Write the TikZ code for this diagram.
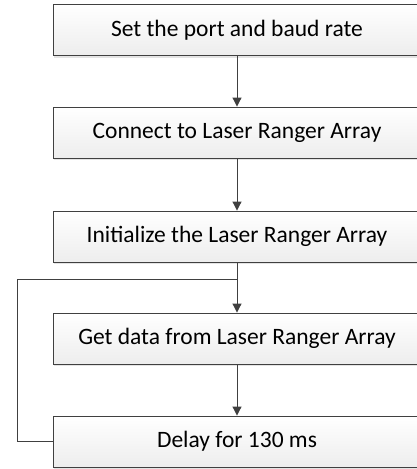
\documentclass[tikz,border=0pt]{standalone}
\usepackage{fontspec}
\setmainfont{Carlito}
\usepackage{xcolor}
\usetikzlibrary{arrows.meta}
\usetikzlibrary{shadows}

\definecolor{linegray}{RGB}{64,64,64}

\begin{document}
\begin{tikzpicture}[x=1pt,y=-1pt]
\tikzset{>={Triangle[width=9pt,length=9pt]}}
\tikzstyle{flowbox} =[rectangle, draw=linegray, line width=0.9pt, top color=white, bottom color=gray!14,
  drop shadow={shadow xshift=1pt,shadow yshift=-2pt,fill=gray!35,opacity=0.6},
  minimum width=368pt, minimum height=51pt, inner sep=0pt, font=\fontsize{23.5}{28}\selectfont]
\tikzstyle{link} =[draw=linegray, line width=1pt]

\useasboundingbox (0,0) rectangle (417,469);

\node[flowbox](s1) at (237,30){Set the port and baud rate};
\node[flowbox](s2) at (237,132.5){Connect to Laser Ranger Array};
\node[flowbox](s3) at (237,236.5){Initialize the Laser Ranger Array};
\node[flowbox](s4) at (237,338.5){Get data from Laser Ranger Array};
\node[flowbox](s5) at (237,441.5){Delay for 130 ms};

\coordinate (join) at (237,279);
\coordinate (back) at (17,279);

\draw [->,link] (s1) to (s2);
\draw [->,link] (s2) to (s3);
\draw [->,link] (s3) to (s4);
\draw [->,link] (s4) to (s5);
\draw [link] (s5) -| (back) -- (join);
\end{tikzpicture}
\end{document}
